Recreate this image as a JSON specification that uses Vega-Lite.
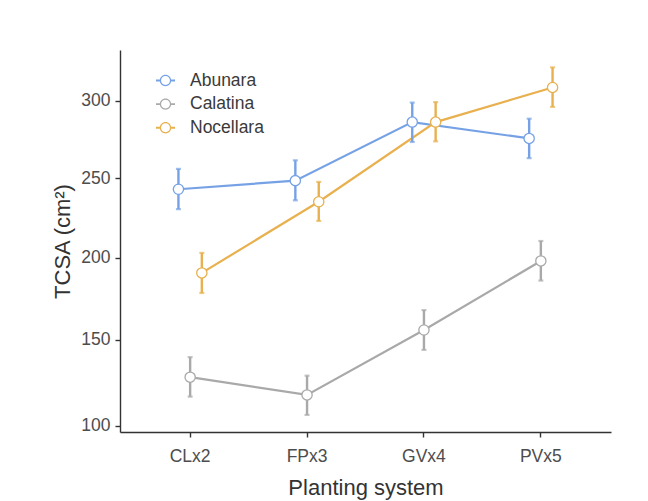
{
  "$schema": "https://vega.github.io/schema/vega-lite/v6.json",
  "width": 491,
  "height": 382,
  "autosize": {"type": "none"},
  "padding": {"left": 120, "top": 50, "right": 37, "bottom": 69},
  "background": "white",
  "config": {
    "font": "Liberation Sans",
    "view": {"stroke": null},
    "axis": {
      "grid": false,
      "domainColor": "#333333",
      "domainWidth": 1.4,
      "tickColor": "#333333",
      "tickWidth": 1.4,
      "tickSize": 5,
      "labelFont": "Liberation Sans",
      "labelFontSize": 17.5,
      "labelColor": "#4d4d4d",
      "titleFont": "Liberation Sans",
      "titleFontSize": 22,
      "titleFontWeight": "normal",
      "titleColor": "#333333"
    }
  },
  "data": {
    "values": [
      {"system": "CLx2", "cultivar": "Abunara", "tcsa": 243.0, "lo": 230.4, "hi": 256.0},
      {"system": "FPx3", "cultivar": "Abunara", "tcsa": 248.5, "lo": 236.0, "hi": 261.5},
      {"system": "GVx4", "cultivar": "Abunara", "tcsa": 286.2, "lo": 273.3, "hi": 298.9},
      {"system": "PVx5", "cultivar": "Abunara", "tcsa": 275.6, "lo": 262.9, "hi": 288.4},
      {"system": "CLx2", "cultivar": "Calatina", "tcsa": 127.9, "lo": 116.6, "hi": 139.7},
      {"system": "FPx3", "cultivar": "Calatina", "tcsa": 117.6, "lo": 106.1, "hi": 128.8},
      {"system": "GVx4", "cultivar": "Calatina", "tcsa": 155.9, "lo": 144.0, "hi": 167.9},
      {"system": "PVx5", "cultivar": "Calatina", "tcsa": 198.0, "lo": 185.9, "hi": 210.4},
      {"system": "CLx2", "cultivar": "Nocellara", "tcsa": 190.6, "lo": 178.3, "hi": 203.0},
      {"system": "FPx3", "cultivar": "Nocellara", "tcsa": 235.1, "lo": 223.0, "hi": 247.7},
      {"system": "GVx4", "cultivar": "Nocellara", "tcsa": 286.2, "lo": 273.7, "hi": 299.2},
      {"system": "PVx5", "cultivar": "Nocellara", "tcsa": 308.8, "lo": 296.1, "hi": 322.0}
    ]
  },
  "encoding": {
    "x": {
      "field": "system",
      "type": "nominal",
      "sort": ["CLx2", "FPx3", "GVx4", "PVx5"],
      "scale": {"type": "band", "paddingInner": 0, "paddingOuter": 0.1},
      "axis": {
        "title": "Planting system",
        "labelAngle": 0,
        "labelPadding": 10,
        "bandPosition": 0.5,
        "titlePadding": 13
      }
    },
    "xOffset": {
      "field": "cultivar",
      "type": "nominal",
      "scale": {"paddingInner": 0, "paddingOuter": 0, "range": [40.9, 76]}
    }
  },
  "layer": [
    {
      "mark": {"type": "line", "strokeWidth": 2.2},
      "encoding": {
        "y": {
          "field": "tcsa",
          "type": "quantitative",
          "scale": {"type": "pow", "exponent": 0.87, "domain": [96.4, 333.5], "nice": false, "zero": false},
          "axis": {
            "title": "TCSA (cm²)",
            "values": [100, 150, 200, 250, 300],
            "labelPadding": 5,
            "titlePadding": 6
          }
        },
        "stroke": {
          "field": "cultivar",
          "type": "nominal",
          "scale": {
            "domain": ["Abunara", "Calatina", "Nocellara"],
            "range": ["#76A2E5", "#A9A9A9", "#E8B04E"]
          },
          "legend": {
            "title": null,
            "orient": "none",
            "legendX": 36,
            "legendY": 21,
            "padding": 0,
            "symbolType": "M-1,-0.1H-0.6V0.1H-1ZM0.6,-0.1H1V0.1H0.6ZM-0.6,0A0.6,0.6,0,1,1,0.6,0A0.6,0.6,0,1,1,-0.6,0ZM-0.47,0A0.47,0.47,0,1,0,0.47,0A0.47,0.47,0,1,0,-0.47,0Z",
            "symbolSize": 361,
            "symbolStrokeWidth": 0,
            "labelFont": "Liberation Sans",
            "labelFontSize": 17.5,
            "labelColor": "#3a3a3a",
            "labelOffset": 15,
            "rowPadding": 5.6
          }
        }
      }
    },
    {
      "mark": {"type": "rule", "strokeWidth": 2.4},
      "encoding": {
        "y": {"field": "lo", "type": "quantitative"},
        "y2": {"field": "hi"},
        "stroke": {"field": "cultivar", "type": "nominal"}
      }
    },
    {
      "mark": {"type": "tick", "size": 5, "thickness": 2.2, "orient": "horizontal"},
      "encoding": {
        "y": {"field": "lo", "type": "quantitative"},
        "fill": {
          "field": "cultivar",
          "type": "nominal",
          "scale": {
            "domain": ["Abunara", "Calatina", "Nocellara"],
            "range": ["#76A2E5", "#A9A9A9", "#E8B04E"]
          },
          "legend": null
        }
      }
    },
    {
      "mark": {"type": "tick", "size": 5, "thickness": 2.2, "orient": "horizontal"},
      "encoding": {
        "y": {"field": "hi", "type": "quantitative"},
        "fill": {"field": "cultivar", "type": "nominal", "legend": null}
      }
    },
    {
      "mark": {"type": "point", "filled": false, "fill": "white", "fillOpacity": 1, "opacity": 1, "size": 105, "strokeWidth": 1.3},
      "encoding": {
        "y": {"field": "tcsa", "type": "quantitative"},
        "stroke": {"field": "cultivar", "type": "nominal"}
      }
    }
  ]
}
